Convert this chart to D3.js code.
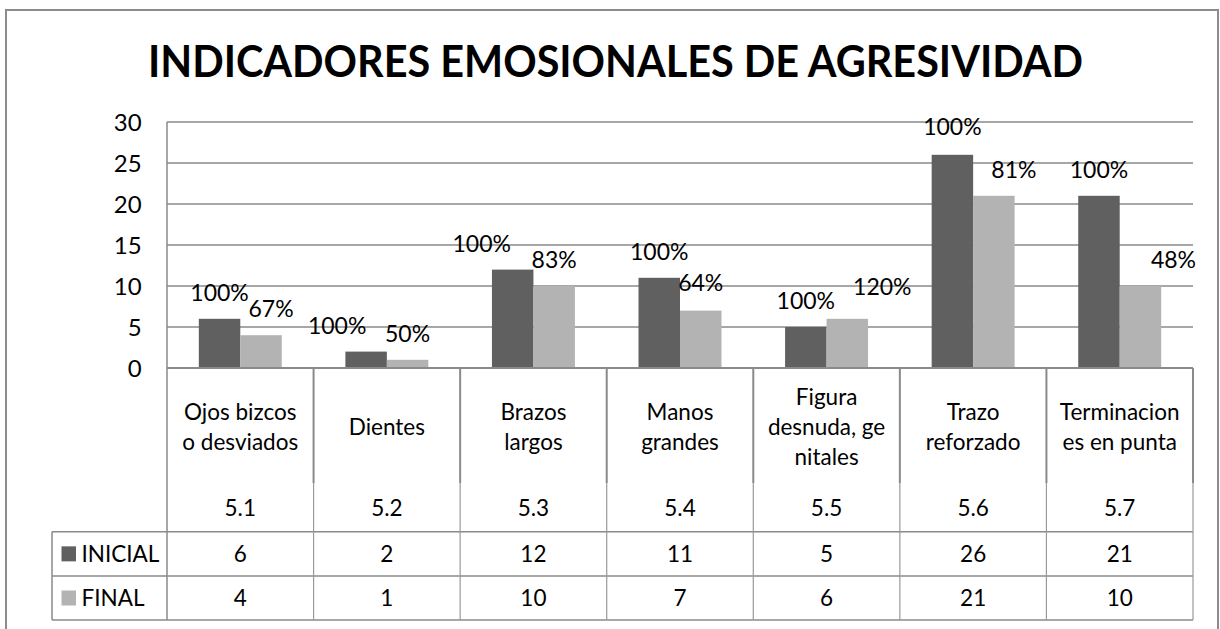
<!DOCTYPE html>
<html><head><meta charset="utf-8">
<script src="https://cdn.jsdelivr.net/npm/d3@7"></script>
<style>
html,body{margin:0;padding:0;background:#fff;}
text{font-family:Lato, "Open Sans", sans-serif;fill:#000;}
</style></head>
<body><svg id="c" width="1220" height="629"></svg>
<script>
// ---- data ----
const chartTitle = "INDICADORES EMOSIONALES DE AGRESIVIDAD";
const categoryLines = [["Ojos bizcos","o desviados"],["Dientes"],["Brazos","largos"],["Manos","grandes"],["Figura","desnuda, ge","nitales"],["Trazo","reforzado"],["Terminacion","es en punta"]];
const codes = ["5.1","5.2","5.3","5.4","5.5","5.6","5.7"];
const seriesNames = ["INICIAL","FINAL"];
const inicial = [6,2,12,11,5,26,21];
const final = [4,1,10,7,6,21,10];
const yTicks = [0,5,10,15,20,25,30];

// ---- layout (not data) ----
const colors = {INICIAL:"#606060", FINAL:"#b3b3b3"};
const L = {left:167,right:1193,top:122,bottom:368,rowCodeTop:483,row1:531.7,row2:576,row3:620,legLeft:52};
const labelNudge = {INICIAL:[[0,0],[-29,0],[-31,0],[0,0],[0,0],[0,-2],[0,0]], FINAL:[[10,0],[0,0],[0,0],[0,-2],[35,-6],[20,0],[33,0]]};
const fs = 22.5;

const svg = d3.select("#c");
const grid = "#8a8a8a";

// outer border
svg.append("rect").attr("x",6).attr("y",10).attr("width",1212).attr("height",640)
  .attr("fill","none").attr("stroke","#8c8c8c").attr("stroke-width",2);

// title
svg.append("text").attr("x",615.5).attr("y",76.7).attr("text-anchor","middle")
  .attr("font-size",43).attr("font-weight",700)
  .attr("textLength",935).attr("lengthAdjust","spacingAndGlyphs").text(chartTitle);

const x = d3.scaleBand().domain(d3.range(categoryLines.length)).range([L.left,L.right]).padding(0);
const bw = x.bandwidth();
const xs = d3.scaleBand().domain(seriesNames).range([bw*0.217, bw*0.783]).padding(0);
const y = d3.scaleLinear().domain([0,30]).range([L.bottom,L.top]);

// gridlines
svg.append("g").selectAll("line").data(yTicks).join("line")
  .attr("x1",L.left).attr("x2",L.right).attr("y1",d=>y(d)).attr("y2",d=>y(d))
  .attr("stroke",grid).attr("stroke-width",1.5);

// y axis labels
const yAxis = d3.axisLeft(y).tickValues(yTicks).tickSize(0).tickPadding(0);
const ga = svg.append("g").attr("transform",`translate(${141.7},0)`).call(yAxis);
ga.select(".domain").remove();
ga.selectAll("text").attr("font-size",24).attr("font-family","Lato").attr("fill","#000").attr("dy","0.34em");

// left axis line
svg.append("line").attr("x1",L.left).attr("x2",L.left).attr("y1",L.top).attr("y2",L.row3).attr("stroke",grid).attr("stroke-width",1.5);

// bars
const series = [{name:"INICIAL",vals:inicial},{name:"FINAL",vals:final}];
series.forEach(s=>{
  svg.append("g").selectAll("rect").data(s.vals).join("rect")
    .attr("x",(d,i)=>x(i)+xs(s.name)).attr("width",xs.bandwidth())
    .attr("y",d=>y(d)).attr("height",d=>y(0)-y(d)).attr("fill",colors[s.name]);
});

// percent labels
const pct = d3.format(".0%");
series.forEach(s=>{
  svg.append("g").selectAll("text").data(s.vals).join("text")
    .attr("x",(d,i)=>x(i)+xs(s.name)+xs.bandwidth()/2+labelNudge[s.name][i][0])
    .attr("y",(d,i)=>y(d)-18+labelNudge[s.name][i][1])
    .attr("text-anchor","middle").attr("font-size",23)
    .text((d,i)=>pct(d/inicial[i]));
});

// table lines
const tl = svg.append("g").attr("stroke",grid);
tl.append("line").attr("x1",L.left).attr("x2",L.right).attr("y1",L.bottom).attr("y2",L.bottom).attr("stroke-width",2);
[L.row1,L.row2,L.row3].forEach(yy=>{
  tl.append("line").attr("x1",L.legLeft).attr("x2",L.right).attr("y1",yy).attr("y2",yy).attr("stroke-width",1.5);
});
tl.append("line").attr("x1",L.legLeft).attr("x2",L.legLeft).attr("y1",L.row1).attr("y2",L.row3).attr("stroke-width",1.5);
const bounds = d3.range(1,categoryLines.length+1).map(i=>i<categoryLines.length? x(i): L.right);
bounds.forEach(bx=>{
  tl.append("line").attr("x1",bx).attr("x2",bx).attr("y1",L.bottom).attr("y2",L.rowCodeTop).attr("stroke-width",2);
  tl.append("line").attr("x1",bx).attr("x2",bx).attr("y1",L.rowCodeTop).attr("y2",L.row3).attr("stroke","#9a9a9a").attr("stroke-width",1.2);
});

// category names
const lh = 30;
categoryLines.forEach((lines,i)=>{
  const cx = x(i)+bw/2;
  const y0 = 427 - (lines.length-1)*lh/2;
  lines.forEach((t,j)=>{
    svg.append("text").attr("x",cx).attr("y",y0+j*lh).attr("dy","0.35em")
      .attr("text-anchor","middle").attr("font-size",fs).text(t);
  });
});
// codes
svg.append("g").selectAll("text").data(codes).join("text")
  .attr("x",(d,i)=>x(i)+bw/2).attr("y",508).attr("dy","0.35em")
  .attr("text-anchor","middle").attr("font-size",fs).text(d=>d);

// value rows
const rowsY = [(L.row1+L.row2)/2,(L.row2+L.row3)/2];
series.forEach((s,k)=>{
  svg.append("g").selectAll("text").data(s.vals).join("text")
    .attr("x",(d,i)=>x(i)+bw/2).attr("y",rowsY[k]).attr("dy","0.35em")
    .attr("text-anchor","middle").attr("font-size",fs).text(d=>d);
  svg.append("rect").attr("x",61.5).attr("y",rowsY[k]-7.5).attr("width",14.5).attr("height",15).attr("fill",colors[s.name]);
  svg.append("text").attr("x",81.5).attr("y",rowsY[k]).attr("dy","0.35em").attr("font-size",fs).text(s.name);
});
</script></body></html>
